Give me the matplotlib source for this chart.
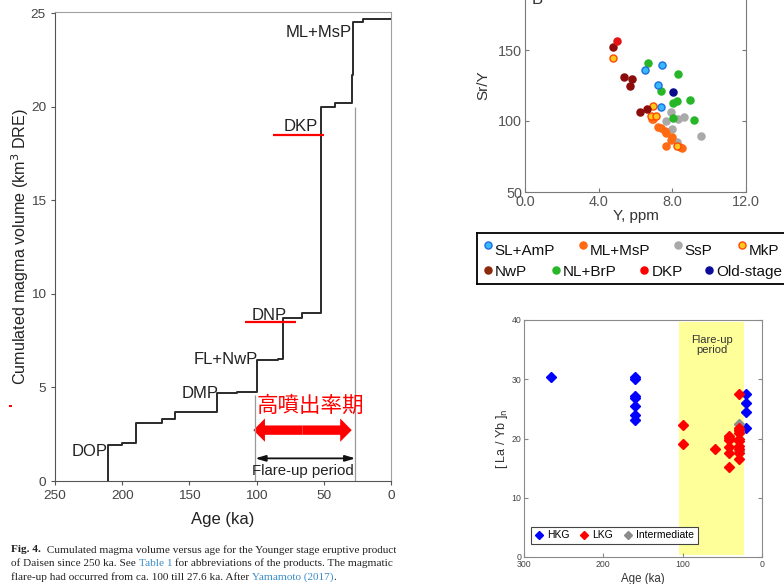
import matplotlib.pyplot as plt
from matplotlib.lines import Line2D
from matplotlib.patches import Rectangle

plt.rcParams['font.family'] = ['Liberation Sans', 'DejaVu Sans']

# ---- panel A: cumulated magma volume vs age (step curve) ----
step_age = [210.5, 200, 190, 170.5, 160.4, 129.7, 114.8, 100, 83.8, 80.1,
            66.4, 52.3, 41.7, 29.2, 28.5, 21]
step_vol = [1.95, 2.05, 3.08, 3.3, 3.7, 4.69, 4.78, 6.47, 6.55, 8.7,
            8.98, 19.98, 20.23, 21.7, 24.53, 24.7]
unit_names = ["DOP", "DMP", "FL+NwP", "DNP", "DKP", "ML+MsP"]
unit_age = [211, 128.5, 98.7, 90.4, 54.5, 29]
unit_vol = [1.6, 4.68, 6.51, 8.86, 18.94, 23.97]
unit_ha = ["right", "right", "right", "center", "right", "right"]
red_marks = [(109, 71, 8.5), (88, 50, 18.5)]  # DNP, DKP
flare_start, flare_end = 101, 26.5

# ---- panel B: Sr/Y vs Y ----
groups = ["SsP", "ML+MsP", "MkP", "NL+BrP", "SL+AmP", "NwP", "DKP", "Old-stage"]
group_y = {
    "SsP": [7.91, 7.65, 8.0, 8.32, 8.63, 8.24, 9.55],
    "ML+MsP": [6.91, 7.24, 7.37, 7.6, 7.65, 8.0, 7.91, 7.65, 8.41, 8.54, 6.97],
    "MkP": [4.8, 6.93, 6.82, 7.10, 8.24],
    "NL+BrP": [6.68, 8.32, 7.38, 8.05, 8.27, 8.96, 8.02, 9.17],
    "SL+AmP": [6.5, 7.44, 7.24, 7.38],
    "NwP": [4.8, 5.38, 5.83, 5.72, 6.24, 6.61],
    "DKP": [5.01],
    "Old-stage": [8.02],
}
group_sry = {
    "SsP": [106.1, 100.0, 94.1, 101.2, 103.0, 85.4, 89.7],
    "ML+MsP": [101.2, 95.6, 94.9, 93.0, 91.3, 89.0, 86.6, 82.6, 81.9, 81.2, 101.5],
    "MkP": [144.4, 110.6, 103.5, 103.5, 82.4],
    "NL+BrP": [140.8, 133.1, 121.1, 112.9, 114.1, 114.8, 101.9, 100.7],
    "SL+AmP": [135.9, 139.4, 125.4, 110.1],
    "NwP": [151.9, 131.2, 129.6, 124.4, 106.5, 108.2],
    "DKP": [156.6],
    "Old-stage": [120.2],
}
group_face = {"SsP": "#a9a9a9", "ML+MsP": "#ff6a12", "MkP": "#ffc81e",
              "NL+BrP": "#27b627", "SL+AmP": "#38b9ff", "NwP": "#8c0c0c",
              "DKP": "#e41414", "Old-stage": "#0c0c8c"}
group_edge = {"SsP": "#a9a9a9", "ML+MsP": "#ff6a12", "MkP": "#ff4a00",
              "NL+BrP": "#27b627", "SL+AmP": "#1c6fe0", "NwP": "#8c0c0c",
              "DKP": "#e41414", "Old-stage": "#0c0c8c"}
legend_rows = [["SL+AmP", "ML+MsP", "SsP", "MkP"],
               ["NwP", "NL+BrP", "DKP", "Old-stage"]]
legend_face = {"NwP": "#8c2a0c", "DKP": "#ff0000", "Old-stage": "#0c0c9c"}

# ---- panel C: [La/Yb]n vs age ----
hkg_age = [266, 160, 160, 160, 160, 160, 160, 160, 20, 20, 20, 20]
hkg_val = [30.3, 30.4, 30.0, 27.2, 26.9, 25.5, 23.9, 23.1, 27.5, 26.0, 24.4, 21.8]
lkg_age = [99, 99, 59, 41, 41, 41, 41, 41, 41,
           28.5, 28.5, 28.5, 28.5, 28.5, 28.5, 28.5, 28.5, 28.5, 28.5]
lkg_val = [22.2, 19.0, 18.2, 20.5, 20.1, 19.8, 18.5, 17.5, 15.2,
           27.5, 21.8, 21.4, 21.0, 20.0, 19.5, 18.8, 18.2, 17.5, 16.5]
int_age = [29.5, 29.5, 29.5]
int_val = [22.5, 21.3, 17.9]
band_age = (104, 23)

fig = plt.figure(figsize=(7.84, 5.84), dpi=100)


def px_axes(x0, y0, x1, y1):
    # pixel box (from top-left) -> axes in figure fraction
    return fig.add_axes([x0 / 784, 1 - y1 / 584, (x1 - x0) / 784, (y1 - y0) / 584])


# ================= left panel =================
ax = px_axes(55, 12, 391, 481)
ax.set_xlim(250, 0)
ax.set_ylim(0, 25.08)
xs = [step_age[0]] + step_age + [0]
ys = [0] + step_vol + [step_vol[-1]]
ax.step(xs, ys, where="post", color="#2a2a2a", lw=1.4, zorder=3)
ax.vlines([flare_start], 0, 4.6, color="#9a9a9a", lw=0.9)
ax.vlines([flare_end], 0, 20, color="#9a9a9a", lw=0.9)
for a0, a1, v in red_marks:
    ax.hlines(v, a0, a1, color="red", lw=1.6, zorder=4)
for name, a, v, ha in zip(unit_names, unit_age, unit_vol, unit_ha):
    ax.text(a, v, name, ha=ha, va="center", fontsize=12, color="#222", zorder=2)

# black flare-up arrow
ax.annotate("", xy=(flare_end, 1.21), xytext=(flare_start, 1.21),
            arrowprops=dict(arrowstyle="<|-|>,head_length=0.6,head_width=0.18",
                            color="#111", lw=1.3, shrinkA=0, shrinkB=0))
ax.text((flare_start + flare_end) / 2 + 1.5, 0.55, "Flare-up period",
        ha="center", va="center", fontsize=10.8, color="#222")

# red thick double arrow
mid = (102.4 + 29.2) / 2
for tip in (102.4, 29.2):
    ax.arrow(mid, 2.72, tip - mid, 0, width=0.5, head_width=1.25,
             head_length=8.6, length_includes_head=True, color="red", lw=0)
ax.text(59.7, 4.02, "高噴出率期", ha="center", va="center", fontsize=15.5,
        color="red", family=["Noto Sans CJK JP", "DejaVu Sans"])

ax.set_xticks([250, 200, 150, 100, 50, 0])
ax.set_yticks([0, 5, 10, 15, 20, 25])
ax.tick_params(direction="out", length=3, labelsize=9.7, colors="#555",
               labelcolor="#444")
for s in ("left", "bottom"):
    ax.spines[s].set_color("#555")
for s in ("top", "right"):
    ax.spines[s].set_color("#a0a0a0")
ax.set_xlabel("Age (ka)", fontsize=12, color="#222", labelpad=7)
ax.set_ylabel("Cumulated magma volume (km$^3$ DRE)", fontsize=11.6, color="#222")
ax.yaxis.set_label_coords(-0.072, 0.5)

# caption (clipped at right edge like the crop)
cap = px_axes(0, 538, 396, 584)
cap.set_xlim(0, 396)
cap.set_ylim(584, 538)
cap.axis("off")
caption_lines = [
    [("Fig. 4.", "#222", "bold"),
     ("  Cumulated magma volume versus age for the Younger stage eruptive products", "#222", "normal")],
    [("of Daisen since 250 ka. See ", "#222", "normal"), ("Table 1", "#3a8cc8", "normal"),
     (" for abbreviations of the products. The magmatic", "#222", "normal")],
    [("flare-up had occurred from ca. 100 till 27.6 ka. After ", "#222", "normal"),
     ("Yamamoto (2017)", "#3a8cc8", "normal"), (".", "#222", "normal")],
]
for line, ypix in zip(caption_lines, [550, 563.5, 577]):
    prev = None
    for txt, col, wt in line:
        kw = dict(fontsize=8.1, color=col, fontweight=wt, family="Liberation Serif",
                  va="center", ha="left", clip_on=True)
        if prev is None:
            prev = cap.text(11, ypix, txt, **kw)
        else:
            prev = cap.annotate(txt, xy=(1, 0.5), xycoords=prev, annotation_clip=False, **kw)

# small red dot at the left margin
fig.add_artist(Rectangle((9 / 784, 1 - 407 / 584), 2.5 / 784, 2.5 / 584,
                         transform=fig.transFigure, color="red", lw=0))

# ================= top-right panel =================
bx = px_axes(525, -21, 746, 192)
bx.set_xlim(0, 12)
bx.set_ylim(50, 200)
for g in groups:
    bx.scatter(group_y[g], group_sry[g], s=26, c=group_face[g],
               edgecolors=group_edge[g], linewidths=1.0, zorder=3)
bx.set_xticks([0, 4, 8, 12])
bx.set_xticklabels(["0.0", "4.0", "8.0", "12.0"])
bx.set_yticks([50, 100, 150])
bx.tick_params(direction="in", length=3, labelsize=10.4, colors="#777",
               labelcolor="#555", right=True, pad=2)
for s in bx.spines.values():
    s.set_color("#7a7a7a")
bx.set_xlabel("Y, ppm", fontsize=11, color="#333", labelpad=0)
bx.set_ylabel("Sr/Y", fontsize=11, color="#333", labelpad=6)
bx.text(0.03, 1.0 - 25 / 213, "B", transform=bx.transAxes, fontsize=12,
        color="#333", va="baseline")

# hand-built legend box (columns not aligned in the original)
lg = px_axes(477, 233, 810, 284)
lg.set_xlim(477, 810)
lg.set_ylim(284, 233)
lg.set_xticks([])
lg.set_yticks([])
for s in lg.spines.values():
    s.set_color("black")
    s.set_linewidth(1.3)
marker_x = [[487.7, 583, 677.7, 741.7], [487.7, 556, 644.3, 709.3]]
for row, mxs, my, ty in zip(legend_rows, marker_x, [245.5, 270], [251.5, 272.5]):
    for g, mx in zip(row, mxs):
        lg.scatter([mx], [my], s=26, c=legend_face.get(g, group_face[g]),
                   edgecolors=group_edge[g] if g in ("MkP", "SL+AmP") else legend_face.get(g, group_face[g]),
                   linewidths=1.0, clip_on=False)
        lg.text(mx + 7, ty, g, fontsize=11, color="#111", va="center", ha="left")

# ================= bottom-right panel =================
cx = px_axes(524, 320, 762, 557)
cx.set_xlim(300, 0)
cx.set_ylim(0, 40)
cx.axvspan(band_age[0], band_age[1], ymin=0.008, ymax=0.99, color="#ffff9a", lw=0)
cx.text(sum(band_age) / 2, 35.8, "Flare-up\nperiod", ha="center", va="center",
        fontsize=8, color="#333", linespacing=1.0)
cx.plot(hkg_age, hkg_val, "D", ms=4.8, color="#0000ff", mec="#0000ff", ls="none",
        label="HKG")
cx.plot(int_age, int_val, "D", ms=4.8, color="#8c8c8c", ls="none", zorder=2.1)
cx.plot(lkg_age, lkg_val, "D", ms=4.8, color="#ff0000", mec="#ff0000", ls="none",
        label="LKG", zorder=2.2)
handles = [Line2D([], [], marker="D", ms=4, color=c, ls="none")
           for c in ("#0000ff", "#ff0000", "#8c8c8c")]
leg = cx.legend(handles, ["HKG", "LKG", "Intermediate"], ncol=3, loc="lower left",
                bbox_to_anchor=(0.029, 0.055), borderaxespad=0, fontsize=7.5,
                handlelength=0.8, handletextpad=0.4, columnspacing=1.0,
                borderpad=0.35, fancybox=False, framealpha=1)
leg.get_frame().set_edgecolor("#444")
leg.get_frame().set_linewidth(0.8)
cx.set_xticks([300, 200, 100, 0])
cx.set_yticks([0, 10, 20, 30, 40])
cx.tick_params(direction="in", length=3, labelsize=6.3, colors="#888",
               labelcolor="#444", right=True, pad=2)
for s in cx.spines.values():
    s.set_color("#8a8a8a")
cx.set_xlabel("Age (ka)", fontsize=8.3, color="#333", labelpad=3)
cx.set_ylabel("[ La / Yb ]$_{\\rm n}$", fontsize=9, color="#333")
cx.yaxis.set_label_coords(-0.058, 0.5)

fig.savefig("out.png", dpi=100)
